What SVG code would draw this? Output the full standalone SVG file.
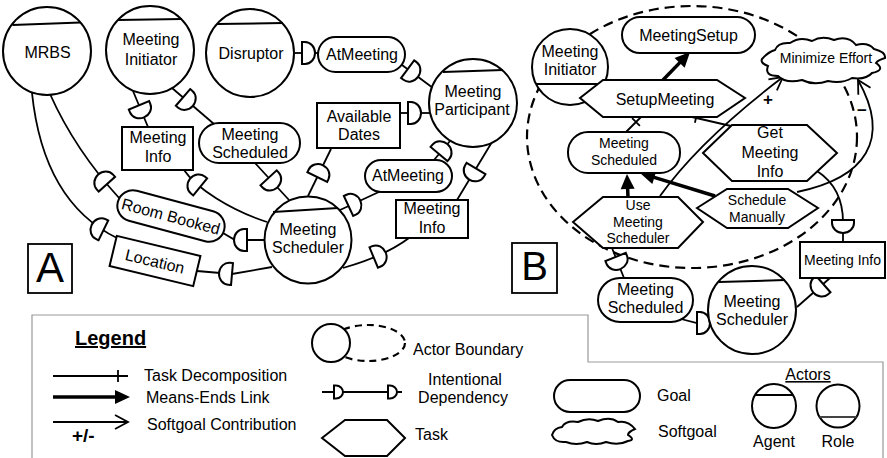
<svg xmlns="http://www.w3.org/2000/svg" width="887" height="458" viewBox="0 0 887 458">
<defs>
<style>
text{font-family:"Liberation Sans",Arial,sans-serif;fill:#000}
.c{text-anchor:middle}
.f16{font-size:16px}
.f14{font-size:14px}
.n{fill:#fff;stroke:#000;stroke-width:2}
.ln{fill:none;stroke:#000;stroke-width:1.8}
.ch{fill:none;stroke:#000;stroke-width:2}
.me{fill:none;stroke:#000;stroke-width:3.5}
.dep{fill:#fff;stroke:#000;stroke-width:2}
.bd{fill:none;stroke:#000;stroke-width:2.2;stroke-dasharray:10 6}
.lb{fill:#fff;stroke:#000;stroke-width:1.8}
</style>
<path id="dd" class="dep" d="M0,-11 L3,-11 A10,11 0 0 1 3,11 L0,11 Z"/>
<path id="ds" class="dep" d="M0,-6.5 L2,-6.5 A7,6.5 0 0 1 2,6.5 L0,6.5 Z"/>
<marker id="mf" markerUnits="userSpaceOnUse" markerWidth="16" markerHeight="14" refX="1" refY="7" orient="auto" overflow="visible"><path d="M0,0 L15,7 L0,14 Z" fill="#000"/></marker>
<marker id="mo" markerUnits="userSpaceOnUse" markerWidth="16" markerHeight="16" refX="14" refY="8" orient="auto" overflow="visible"><path d="M1,1 L14,8 L1,15" fill="none" stroke="#000" stroke-width="1.8"/></marker>
</defs>

<!-- Actor boundary of Meeting Initiator (B) -->
<g id="b-mi-boundary"><ellipse class="bd" cx="692" cy="137" rx="165" ry="131"/></g>

<g id="connectors">
<!-- A -->
<path class="ln" d="M295,53 H318"/>
<use href="#dd" transform="translate(302,53)"/>
<path class="ln" d="M402,65 L433,88"/>
<use href="#dd" transform="translate(407.6,69.2) rotate(36.6)"/>
<path class="ln" d="M400,113 H431"/>
<use href="#dd" transform="translate(408,113)"/>
<path class="ln" d="M331,149 L308,196"/>
<use href="#dd" transform="translate(317.3,177) rotate(-64)"/>
<path class="ln" d="M340,210 L381,191"/>
<use href="#dd" transform="translate(348.5,206) rotate(-25)"/>
<path class="ln" d="M434,160 L450,141"/>
<use href="#dd" transform="translate(439,154) rotate(-50)"/>
<path class="ln" d="M492,142 L457,200"/>
<use href="#dd" transform="translate(476,168.5) rotate(121)"/>
<path class="ln" d="M409,238 Q385,256 343,268"/>
<use href="#dd" transform="translate(373.7,257.5) rotate(-22.5)"/>
<path class="ln" d="M255,163 L289,200"/>
<use href="#dd" transform="translate(268.6,177.8) rotate(47.4)"/>
<path class="ln" d="M184,170 C196,188 230,210 267,222"/>
<use href="#dd" transform="translate(200.2,186.9) rotate(219)"/>
<path class="ln" d="M223,233 L235,240 H264"/>
<use href="#dd" transform="translate(247,240) rotate(180)"/>
<path class="ln" d="M197,271 L232,274 L272,267"/>
<use href="#dd" transform="translate(232,274) rotate(185)"/>
<path class="ln" d="M50,94 Q75,150 120,199"/>
<use href="#dd" transform="translate(106.9,184.2) rotate(228)"/>
<path class="ln" d="M32,93 C40,170 70,215 117,238"/>
<use href="#dd" transform="translate(103.4,230.4) rotate(206)"/>
<path class="ln" d="M133,91 L148,127"/>
<use href="#dd" transform="translate(139,105.4) rotate(67.4)"/>
<path class="ln" d="M172,88 L214,124"/>
<use href="#dd" transform="translate(183,97.4) rotate(40.6)"/>
<!-- B -->
<path class="ln" d="M817,171 Q843,188 843,222 V242"/>
<use href="#dd" transform="translate(843,220) rotate(90)"/>
<path class="ln" d="M830,278 L797,307"/>
<use href="#dd" transform="translate(823.2,284) rotate(138.7)"/>
<path class="ln" d="M612,248 L624,278"/>
<use href="#dd" transform="translate(615.6,257) rotate(68)"/>
<path class="ln" d="M681,319 L697,323 H710"/>
<use href="#dd" transform="translate(697,323)"/>
<path class="ln" d="M626,132 L641,117 M632.1,118.1 L639.9,125.9"/>
<path class="ln" d="M731,126 L692,117 M697.1,113 L694.9,122.8"/>
<path class="me" d="M663,80 L680.3,62.1" marker-end="url(#mf)"/>
<path class="me" d="M628,197 L627.6,188" marker-end="url(#mf)"/>
<path class="me" d="M715,196 L653.4,177.1" marker-end="url(#mf)"/>
<path class="ln" d="M660,196 Q700,140 783,77" marker-end="url(#mo)"/>
<text class="c" x="768" y="104.5" font-size="17" font-weight="bold">+</text>
<path class="ln" d="M797,192 C865,178 892,140 858,80" marker-end="url(#mo)"/>
<text class="c" x="862" y="115.5" font-size="17" font-weight="bold">−</text>
</g>

<!-- A nodes -->
<g id="a-mrbs"><circle class="n" cx="47" cy="51" r="44"/><line class="ch" x1="12.5" y1="25" x2="80.5" y2="22.5"/><text class="c f16" x="47.5" y="57.5">MRBS</text></g>
<g id="a-meeting-initiator"><circle class="n" cx="150" cy="50" r="44"/><line class="ch" x1="118" y1="20" x2="182" y2="19"/><text class="c f16" x="151" y="45">Meeting</text><text class="c f16" x="151" y="65">Initiator</text></g>
<g id="a-disruptor"><circle class="n" cx="250" cy="53" r="44"/><line class="ch" x1="217" y1="24" x2="283" y2="23"/><text class="c f16" x="251" y="58.5">Disruptor</text></g>
<g id="a-atmeeting-1"><rect class="n" x="318" y="37" width="87" height="35" rx="17.5"/><text class="c f16" x="362" y="60">AtMeeting</text></g>
<g id="a-meeting-participant"><circle class="n" cx="473" cy="103" r="44"/><line class="ch" x1="443" y1="72" x2="503" y2="70"/><text class="c f16" x="473" y="97">Meeting</text><text class="c f16" x="472" y="115">Participant</text></g>
<g id="a-available-dates"><rect class="n" x="317" y="103" width="83" height="45"/><text class="c f16" x="359" y="122">Available</text><text class="c f16" x="359" y="140">Dates</text></g>
<g id="a-atmeeting-2"><rect class="n" x="365" y="160" width="87" height="32" rx="16"/><text class="c f16" x="408" y="181">AtMeeting</text></g>
<g id="a-meeting-info-2"><rect class="n" x="396" y="200" width="72" height="38"/><text class="c f16" x="432" y="213.5">Meeting</text><text class="c f16" x="432" y="233">Info</text></g>
<g id="a-meeting-scheduler"><circle class="n" cx="308" cy="240" r="43.5"/><line class="ch" x1="273" y1="212" x2="338" y2="208"/><text class="c f16" x="308" y="235">Meeting</text><text class="c f16" x="308" y="253">Scheduler</text></g>
<g id="a-meeting-scheduled"><rect class="n" x="199" y="123" width="101" height="40" rx="20"/><text class="c f16" x="250" y="139.5">Meeting</text><text class="c f16" x="250" y="158">Scheduled</text></g>
<g id="a-meeting-info-1"><rect class="n" x="122" y="127" width="71" height="43"/><text class="c f16" x="158" y="143">Meeting</text><text class="c f16" x="158" y="162">Info</text></g>
<g id="a-room-booked" transform="translate(171,216) rotate(15)"><rect class="n" x="-55" y="-15.5" width="110" height="31" rx="15.5"/><text class="c f16" x="0" y="6">Room Booked</text></g>
<g id="a-location" transform="translate(155,261) rotate(13.5)"><rect class="n" x="-43" y="-15.5" width="86" height="31"/><text class="c f16" x="0" y="6">Location</text></g>
<g id="label-a"><rect class="lb" x="28" y="244" width="44" height="49"/><text class="c" x="50" y="282" font-size="42">A</text></g>

<!-- B nodes -->
<g id="b-meeting-initiator"><circle class="n" cx="570" cy="67" r="38"/><line class="ch" x1="536" y1="84" x2="604" y2="84"/><text class="c f16" x="570" y="57">Meeting</text><text class="c f16" x="570" y="75">Initiator</text></g>
<g id="b-meetingsetup"><rect class="n" x="622" y="17" width="133" height="36" rx="18"/><text class="c f16" x="688.5" y="41">MeetingSetup</text></g>
<g id="b-setupmeeting"><polygon class="n" points="580,98 603,80 717,80 745,98 717,117 603,117"/><text class="c f16" x="665" y="105">SetupMeeting</text></g>
<g id="b-meeting-scheduled-1"><rect class="n" x="568" y="132" width="112" height="41" rx="20"/><text class="c f14" x="624" y="148">Meeting</text><text class="c f14" x="624" y="165">Scheduled</text></g>
<g id="b-get-meeting-info"><polygon class="n" points="703,153 732,125 807,125 837,153 807,181 732,181"/><text class="c f16" x="770" y="138">Get</text><text class="c f16" x="770" y="158">Meeting</text><text class="c f16" x="770" y="177">Info</text></g>
<g id="b-use-meeting-scheduler"><polygon class="n" points="573,222 603,197 678,197 703,222 678,248 603,248"/><text class="c f14" x="638" y="210">Use</text><text class="c f14" x="638" y="227">Meeting</text><text class="c f14" x="638" y="243">Scheduler</text></g>
<g id="b-schedule-manually"><polygon class="n" points="697,208 727,189 788,189 818,208 788,228 727,228"/><text class="c f14" x="757" y="205">Schedule</text><text class="c f14" x="757" y="222">Manually</text></g>
<g id="b-minimize-effort"><path class="n" d="M762,59 Q768,52 775,50 Q778,42 790,43 Q800,36 812,41 Q822,35 834,40 Q848,35 856,45 Q868,42 874,49 Q886,52 885,58 Q878,60 876,63 Q886,70 872,73 Q866,80 852,78 Q842,84 828,81 Q814,86 802,80 Q786,84 778,76 Q764,76 768,66 Q760,63 762,59 Z"/><text class="c f14" x="826" y="63">Minimize Effort</text></g>
<g id="b-meeting-info"><rect class="n" x="800" y="242" width="85" height="36"/><text class="c f14" x="842.5" y="265">Meeting Info</text></g>
<g id="b-meeting-scheduler"><circle class="n" cx="752" cy="310" r="44"/><line class="ch" x1="719" y1="282" x2="785" y2="280"/><text class="c f16" x="752" y="306.5">Meeting</text><text class="c f16" x="752" y="324.5">Scheduler</text></g>
<g id="b-meeting-scheduled-2"><rect class="n" x="598" y="278" width="95" height="44" rx="22"/><text class="c f16" x="645.5" y="295">Meeting</text><text class="c f16" x="645.5" y="313">Scheduled</text></g>
<g id="label-b"><rect class="lb" x="512" y="243" width="45" height="50"/><text class="c" x="534.5" y="280" font-size="40">B</text></g>

<!-- Legend -->
<g id="legend">
<path d="M32,458 V315 H588 V362 H883 V458" fill="none" stroke="#999" stroke-width="1.2"/>
<text x="75" y="345" font-size="20" font-weight="bold" text-decoration="underline">Legend</text>
<line class="ln" x1="53" y1="376" x2="128" y2="376"/><line class="ln" x1="118" y1="370" x2="118" y2="382"/>
<text class="f16" x="144" y="381">Task Decomposition</text>
<line class="me" x1="53" y1="397" x2="116" y2="397" marker-end="url(#mf)"/>
<text class="f16" x="146" y="403">Means-Ends Link</text>
<line class="ln" x1="53" y1="422" x2="128" y2="422" marker-end="url(#mo)"/>
<text x="72" y="442" font-size="19" font-weight="bold">+/-</text>
<text class="f16" x="147" y="430">Softgoal Contribution</text>
<ellipse class="bd" cx="368" cy="343" rx="37" ry="18" style="stroke-dasharray:7 5"/>
<circle class="n" cx="331" cy="343" r="19"/>
<text class="f16" x="413" y="355">Actor Boundary</text>
<line class="ln" x1="322" y1="392" x2="402" y2="392"/>
<use href="#ds" transform="translate(334,392)"/>
<use href="#ds" transform="translate(388,392)"/>
<text class="c f16" x="465" y="385">Intentional</text>
<text class="c f16" x="463" y="403">Dependency</text>
<polygon class="n" points="322,438 345,420 387,420 405,438 387,456 345,456"/>
<text class="f16" x="415" y="440">Task</text>
<rect class="n" x="554" y="380" width="86" height="32" rx="16"/>
<text class="f16" x="657" y="401">Goal</text>
<path class="n" d="M552,435 Q554,428 562,427 Q566,420 578,422 Q588,417 598,421 Q610,416 618,422 Q628,420 635,429 Q628,432 628,435 Q636,440 628,441 Q618,446 606,442 Q596,446 587,442 Q576,446 566,442 Q555,443 552,435 Z"/>
<text class="f16" x="658" y="437">Softgoal</text>
<text class="c f16" x="808" y="380" text-decoration="underline">Actors</text>
<circle class="n" cx="774" cy="406" r="22"/><line class="ch" x1="755" y1="395" x2="793" y2="395"/>
<text class="c f16" x="774" y="447">Agent</text>
<circle class="n" cx="838" cy="406" r="21.5"/><line class="ch" x1="819.5" y1="417" x2="856.5" y2="417" style="stroke:#444"/>
<text class="c f16" x="838" y="447">Role</text>
</g>
</svg>
